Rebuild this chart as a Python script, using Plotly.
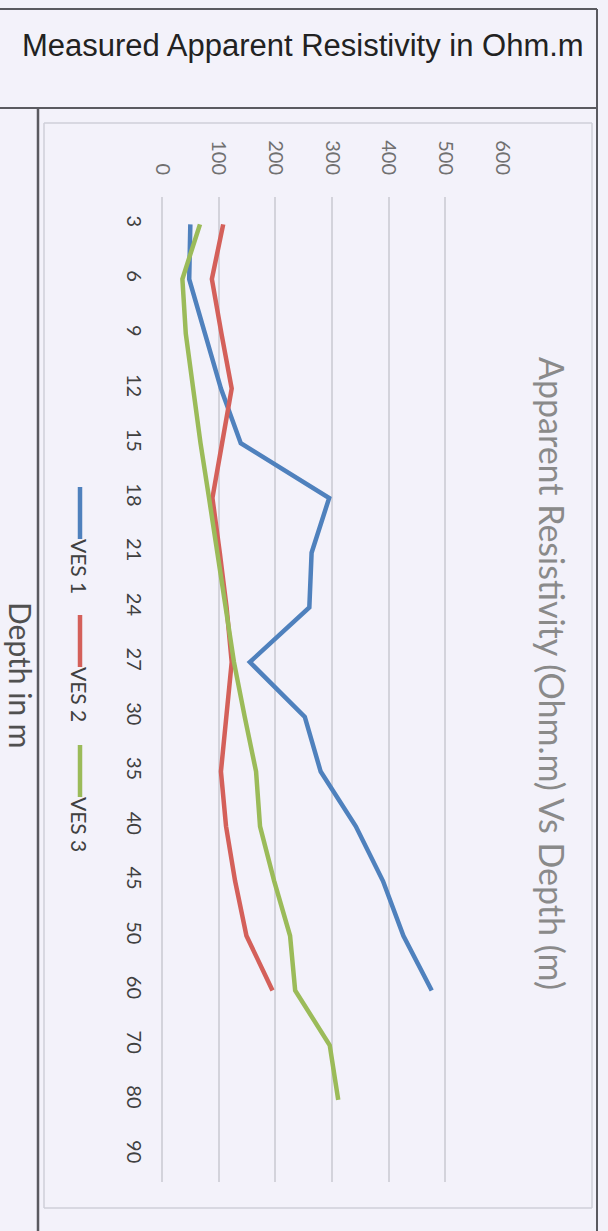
import plotly.graph_objects as go

# ---------------- data ----------------
depth = ["3", "6", "9", "12", "15", "18", "21", "24", "27", "30",
         "35", "40", "45", "50", "60", "70", "80", "90"]
ves1 = [50, 48, 76, 104, 139, 295, 264, 260, 155, 252, 280, 342, 390, 426, 476]
ves2 = [108, 88, 105, 123, 106, 89, 102, 114, 123, 114, 104, 113, 129, 149, 195]
ves3 = [67, 36, 42, 54, 68, 83, 98, 113, 127, 146, 166, 173, 198, 226, 235, 296, 311]
series_names = ["VES 1", "VES 2", "VES 3"]
series_values = [ves1, ves2, ves3]
colors = ["#4f81bd", "#d4605a", "#9bbb59"]
value_ticks = [0, 100, 200, 300, 400, 500, 600]

header_text = "Measured Apparent Resistivity in Ohm.m"
chart_title = "Apparent Resistivity (Ohm.m) Vs Depth (m)"
depth_title = "Depth in m"

# ---------------- layout geometry (pixels) ----------------
W, H = 608, 1231
L, R, T, B = 162, 106, 197, 49
pw, ph = W - L - R, H - T - B


def px(x):
    return (x - L) / pw


def py(y):
    return 1 - (y - T) / ph


bg = "#f3f2fa"
fig = go.Figure()
for name, vals, col in zip(series_names, series_values, colors):
    fig.add_trace(go.Scatter(
        x=vals, y=depth[:len(vals)], mode="lines", name=name,
        line=dict(color=col, width=4.5), showlegend=False,
    ))

shapes = []


def seg(x0, y0, x1, y1, color, width):
    shapes.append(dict(type="line", xref="paper", yref="paper",
                       x0=px(x0), y0=py(y0), x1=px(x1), y1=py(y1),
                       line=dict(color=color, width=width), layer="below"))


# table borders
dark = "#5a5a60"
seg(0, 9, 597, 9, dark, 2)
seg(597, 9, 597, 1231, dark, 2)
seg(0, 108, 597, 108, dark, 2)
seg(38, 108, 38, 1231, dark, 2.5)
# chart area frame
light = "#cfcfd8"
seg(44, 123, 592, 123, light, 1.5)
seg(592, 123, 592, 1208, light, 1.5)
seg(44, 1208, 592, 1208, light, 1.5)
seg(44, 123, 44, 1208, light, 1.5)

annotations = [
    dict(text=header_text, x=px(303), y=py(45), xref="paper", yref="paper",
         showarrow=False, xanchor="center", yanchor="middle",
         font=dict(family="Liberation Sans", size=31, color="#222222")),
    dict(text=chart_title, x=px(553), y=py(673), xref="paper", yref="paper",
         showarrow=False, xanchor="center", yanchor="middle", textangle=90,
         font=dict(family="Lato", size=34, color="#8a8a8a")),
    dict(text=depth_title, x=px(21), y=py(675), xref="paper", yref="paper",
         showarrow=False, xanchor="center", yanchor="middle", textangle=90,
         font=dict(family="Lato", size=30, color="#505050")),
]

# legend (rotated, drawn by hand)
leg_line_start = [487, 615, 745]
for name, col, y0 in zip(series_names, colors, leg_line_start):
    seg(80, y0, 80, y0 + 52, col, 4.5)
    annotations.append(dict(text=name, x=px(80), y=py(y0 + 53 + 26),
                            xref="paper", yref="paper", showarrow=False,
                            xanchor="center", yanchor="middle", textangle=90,
                            font=dict(family="Lato", size=21, color="#404040")))

fig.update_layout(
    width=W, height=H,
    margin=dict(l=L, r=R, t=T, b=B, pad=0),
    paper_bgcolor=bg, plot_bgcolor=bg,
    shapes=shapes, annotations=annotations,
    xaxis=dict(range=[0, 600], tickvals=value_ticks, side="top", tickangle=90,
               showgrid=True, gridcolor="#d3d3db", gridwidth=1.5,
               zeroline=True, zerolinecolor="#d3d3db", zerolinewidth=1.5,
               showline=False, ticks="", ticklabelstandoff=18,
               tickfont=dict(family="Lato", size=20, color="#707070")),
    yaxis=dict(type="category", categoryorder="array", categoryarray=depth,
               tickvals=depth, range=[17.5, -0.5], tickangle=90,
               showgrid=False, zeroline=False, showline=False, ticks="",
               ticklabelstandoff=14,
               tickfont=dict(family="Lato", size=20, color="#404040")),
)

fig.write_html(
    "out.html",
    config={"displayModeBar": False},
    post_script="document.body.style.margin='0';"
                "document.body.style.background='" + bg + "';",
)
